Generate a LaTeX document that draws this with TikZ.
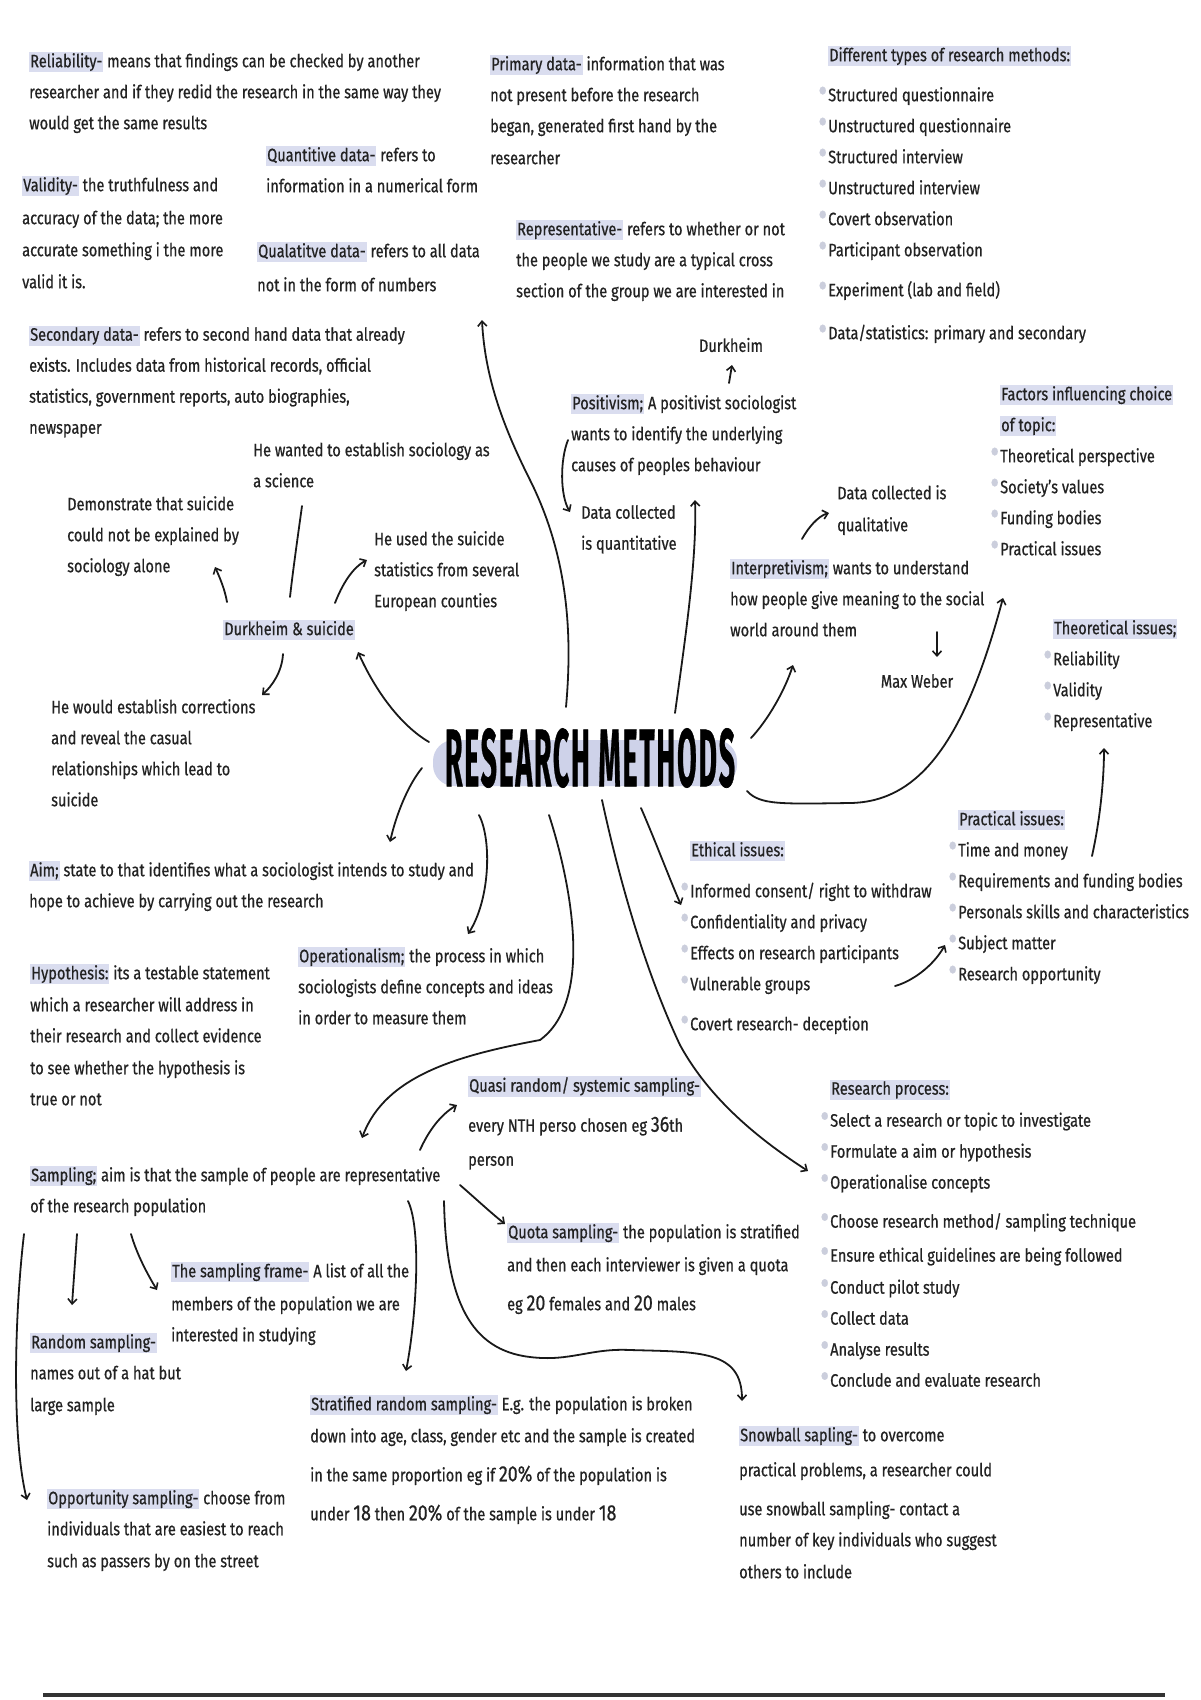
\documentclass[tikz,border=0pt]{standalone}
\usepackage{fontspec}
\usepackage{graphicx}
\usetikzlibrary{arrows.meta}
\setmainfont{Fira Sans}[FakeStretch=0.81, FakeBold=0.6]
\newfontfamily\titlefont{Fira Sans}[FakeBold=0.9, LetterSpace=6]
\definecolor{txtc}{HTML}{222222}
\definecolor{hlc}{RGB}{218,221,239}
\definecolor{ttlhl}{RGB}{206,210,233}
\definecolor{bulc}{RGB}{203,206,220}
\newcommand\hlt[1]{{\setlength{\fboxsep}{1pt}\colorbox{hlc}{\vphantom{Ay}#1}}}
\newcommand\bul{\llap{\smash{\textcolor{bulc}{\raisebox{-1pt}{\scalebox{1.9}{•}}}}\hspace{1pt}}}
\newcommand\nm[1]{{\fontsize{22}{31}\selectfont #1}}
\tikzset{
  tx/.style={anchor=north west, inner sep=0pt, align=left, text=txtc, font=\fontsize{18}{31}\selectfont},
  ct/.style={anchor=center, inner sep=0pt, text=txtc, font=\fontsize{18}{31}\selectfont},
  arr/.style={draw=black!90, line width=1.8pt, line cap=round, -{Straight Barb[length=5pt,width=9pt,line width=1.6pt]}},
  ln/.style={draw=black!90, line width=1.8pt, line cap=round},
}
\begin{document}
\begin{tikzpicture}[x=1pt,y=-1pt]
\useasboundingbox (0,0) rectangle (1200,1700);
\fill[white] (0,0) rectangle (1200,1700);

% title
\fill[ttlhl, rounded corners=21pt] (433,740) rectangle (737,786);
\node[inner sep=0pt] (title) at (590,758) {\resizebox{290pt}{58pt}{\titlefont\bfseries RESEARCH METHODS}};

% text blocks
\node[tx] (rel) at (29,52) {\hlt{Reliability-} means that findings can be checked by another\\ researcher and if they redid the research in the same way they\\ would get the same results};
\node[tx] (quant) at (266,146) {\hlt{Quantitive data-} refers to\\ information in a numerical form};
\node[tx] (valid) at (22,176) {\hlt{Validity-} the truthfulness and\\[2pt] accuracy of the data; the more\\[1pt] accurate something i the more\\[1pt] valid it is.};
\node[tx] (qual) at (257,242) {\hlt{Qualatitve data-} refers to all data\\[3pt] not in the form of numbers};
\node[tx] (prim) at (490,55) {\hlt{Primary data-} information that was\\ not present before the research\\ began, generated first hand by the\\[1pt] researcher};
\node[tx] (repr) at (516,220) {\hlt{Representative-} refers to whether or not\\ the people we study are a typical cross\\ section of the group we are interested in};
\node[tx] (types) at (828,46) {\hlt{Different types of research methods:}\\[9pt] \bul Structured questionnaire\\ \bul Unstructured questionnaire\\ \bul Structured interview\\ \bul Unstructured interview\\ \bul Covert observation\\ \bul Participant observation\\[9pt] \bul Experiment (lab and field)\\[12pt] \bul Data/statistics: primary and secondary};
\node[tx] (sec) at (29,326) {\hlt{Secondary data-} refers to second hand data that already\\ exists. Includes data from historical records, official\\ statistics, government reports, auto biographies,\\ newspaper};
\node[ct] (durk) at (731,345) {Durkheim};
\node[tx] (posit) at (571,394) {\hlt{Positivism;} A positivist sociologist\\ wants to identify the underlying\\ causes of peoples behaviour};
\node[tx] (factors) at (1000,385) {\hlt{Factors influencing choice}\\ \hlt{of topic:}\\ \bul Theoretical perspective\\ \bul Society's values\\ \bul Funding bodies\\ \bul Practical issues};
\node[tx] (wanted) at (253,442) {He wanted to establish sociology as\\ a science};
\node[tx] (demo) at (67,496) {Demonstrate that suicide\\ could not be explained by\\ sociology alone};
\node[tx] (used) at (374,531) {He used the suicide\\ statistics from several\\ European counties};
\node[tx] (dcquant) at (581,505) {Data collected\\ is quantitative};
\node[tx] (dcqual) at (837,485) {Data collected is\\[1pt] qualitative};
\node[tx] (interp) at (730,559) {\hlt{Interpretivism;} wants to understand\\ how people give meaning to the social\\ world around them};
\node[tx] (theo) at (1053,619) {\hlt{Theoretical issues;}\\ \bul Reliability\\ \bul Validity\\ \bul Representative};
\node[ct] (weber) at (917,681) {Max Weber};
\node[ct] (dsui) at (289,630) {\hlt{Durkheim \& suicide}};
\node[tx] (would) at (51,699) {He would establish corrections\\ and reveal the casual\\ relationships which lead to\\ suicide};
\node[tx] (prac) at (958,810) {\hlt{Practical issues:}\\ \bul Time and money\\ \bul Requirements and funding bodies\\ \bul Personals skills and characteristics\\ \bul Subject matter\\ \bul Research opportunity};
\node[tx] (eth) at (690,841) {\hlt{Ethical issues:}\\[10pt] \bul Informed consent/ right to withdraw\\ \bul Confidentiality and privacy\\ \bul Effects on research participants\\ \bul Vulnerable groups\\[9pt] \bul Covert research- deception};
\node[tx] (aim) at (29,861) {\hlt{Aim;} state to that identifies what a sociologist intends to study and\\ hope to achieve by carrying out the research};
\node[tx] (oper) at (298,947) {\hlt{Operationalism;} the process in which\\ sociologists define concepts and ideas\\ in order to measure them};
\node[tx] (hyp) at (30,964) {\hlt{Hypothesis:} its a testable statement\\[1pt] which a researcher will address in\\ their research and collect evidence\\[1pt] to see whether the hypothesis is\\ true or not};
\node[tx] (quasi) at (468,1076) {\hlt{Quasi random/ systemic sampling-}\\[9pt] every NTH perso chosen eg \nm{36}th\\[3pt] person};
\node[tx] (rproc) at (830,1080) {\hlt{Research process:}\\[1pt] \bul Select a research or topic to investigate\\ \bul Formulate a aim or hypothesis\\ \bul Operationalise concepts\\[8pt] \bul Choose research method/ sampling technique\\[3pt] \bul Ensure ethical guidelines are being followed\\[1pt] \bul Conduct pilot study\\ \bul Collect data\\ \bul Analyse results\\ \bul Conclude and evaluate research};
\node[tx] (samp) at (30,1166) {\hlt{Sampling;} aim is that the sample of people are representative\\ of the research population};
\node[tx] (quota) at (507,1223) {\hlt{Quota sampling-} the population is stratified\\[2pt] and then each interviewer is given a quota\\[8pt] eg \nm{20} females and \nm{20} males};
\node[tx] (frame) at (171,1262) {\hlt{The sampling frame-} A list of all the\\[2pt] members of the population we are\\ interested in studying};
\node[tx] (rand) at (30,1333) {\hlt{Random sampling-}\\ names out of a hat but\\[1pt] large sample};
\node[tx] (strat) at (310,1395) {\hlt{Stratified random sampling-} E.g. the population is broken\\[1pt] down into age, class, gender etc and the sample is created\\[8pt] in the same proportion eg if \nm{20\%} of the population is\\[8pt] under \nm{18} then \nm{20\%} of the sample is under \nm{18}};
\node[tx] (snow) at (739,1426) {\hlt{Snowball sapling-} to overcome\\[4pt] practical problems, a researcher could\\[8pt] use snowball sampling- contact a\\ number of key individuals who suggest\\[1pt] others to include};
\node[tx] (opp) at (47,1489) {\hlt{Opportunity sampling-} choose from\\ individuals that are easiest to reach\\[1pt] such as passers by on the street};

% connectors
\draw[arr] ([shift={(-161,-16)}]title.center) .. controls (400,725) and (375,690) .. ([shift={(69,22)}]dsui.center);
\draw[arr] ([shift={(-168,10)}]title.center) .. controls (408,785) and (396,815) .. ([shift={(361,-19)}]aim.north west);
\draw[arr] ([shift={(-62,-28)}]dsui.center) .. controls (225,590) and (220,578) .. ([shift={(148,71)}]demo.north west);
\draw[ln] ([shift={(1,-33)}]dsui.center) .. controls (293,570) and (298,535) .. ([shift={(49,64)}]wanted.north west);
\draw[arr] ([shift={(46,-27)}]dsui.center) .. controls (342,585) and (352,568) .. ([shift={(-7,29)}]used.north west);
\draw[arr] ([shift={(-6,24)}]dsui.center) .. controls (282,672) and (272,686) .. ([shift={(211,-4)}]would.north west);
\draw[arr] ([shift={(-24,-51)}]title.center) .. controls (572,640) and (570,560) .. (530,480) .. controls (505,430) and (485,380) .. ([shift={(225,78)}]qual.north west);
\draw[arr] ([shift={(85,-45)}]title.center) .. controls (685,640) and (697,560) .. ([shift={(114,-5)}]dcquant.north west);
\draw[arr] ([shift={(-3,46)}]posit.north west) .. controls (560,460) and (560,495) .. ([shift={(-11,7)}]dcquant.north west);
\draw[arr] ([shift={(158,-11)}]posit.north west) -- ([shift={(1,20)}]durk.center);
\draw[arr] ([shift={(161,-20)}]title.center) .. controls (768,720) and (785,690) .. ([shift={(63,106)}]interp.north west);
\draw[arr] ([shift={(72,-20)}]interp.north west) .. controls (808,528) and (818,516) .. ([shift={(-8,28)}]dcqual.north west);
\draw[arr] ([shift={(207,73)}]interp.north west) -- ([shift={(20,-24)}]weber.center);
\draw[arr] ([shift={(157,33)}]title.center) .. controls (760,805) and (780,804) .. (850,803) .. controls (920,802) and (965,740) .. ([shift={(3,213)}]factors.north west);
\draw[arr] ([shift={(134,46)}]prac.north west) .. controls (1100,820) and (1104,780) .. ([shift={(51,129)}]theo.north west);
\draw[arr] ([shift={(205,145)}]eth.north west) .. controls (910,982) and (932,968) .. ([shift={(-13,135)}]prac.north west);
\draw[arr] ([shift={(51,50)}]title.center) .. controls (655,840) and (670,880) .. ([shift={(-9,64)}]eth.north west);
\draw[arr] ([shift={(12,42)}]title.center) .. controls (615,860) and (640,960) .. (680,1045) .. controls (710,1100) and (760,1140) .. ([shift={(-22,91)}]rproc.north west);
\draw[arr] ([shift={(-111,57)}]title.center) .. controls (492,840) and (490,900) .. ([shift={(170,-13)}]oper.north west);
\draw[arr] ([shift={(-41,57)}]title.center) .. controls (570,880) and (595,1000) .. (540,1040) .. controls (460,1055) and (385,1075) .. ([shift={(332,-28)}]samp.north west);
\draw[arr] ([shift={(390,-16)}]samp.north west) .. controls (428,1132) and (440,1115) .. ([shift={(-11,29)}]quasi.north west);
\draw[arr] ([shift={(430,19)}]samp.north west) .. controls (475,1198) and (490,1212) .. ([shift={(-2,1)}]quota.north west);
\draw[arr] ([shift={(378,35)}]samp.north west) .. controls (422,1230) and (416,1320) .. ([shift={(96,-24)}]strat.north west);
\draw[arr] ([shift={(414,35)}]samp.north west) .. controls (446,1300) and (470,1350) .. (530,1357) .. controls (570,1362) and (590,1348) .. (630,1350) .. controls (700,1352) and (742,1350) .. ([shift={(3,-25)}]snow.north west);
\draw[arr] ([shift={(47,68)}]samp.north west) -- ([shift={(42,-28)}]rand.north west);
\draw[arr] ([shift={(101,68)}]samp.north west) .. controls (137,1255) and (148,1275) .. ([shift={(-14,28)}]frame.north west);
\draw[arr] ([shift={(-6,68)}]samp.north west) .. controls (14,1320) and (12,1440) .. ([shift={(-20,11)}]opp.north west);

% bottom rule
\draw[line width=4pt, black!80] (43,1695) -- (1165,1695);
\end{tikzpicture}
\end{document}
